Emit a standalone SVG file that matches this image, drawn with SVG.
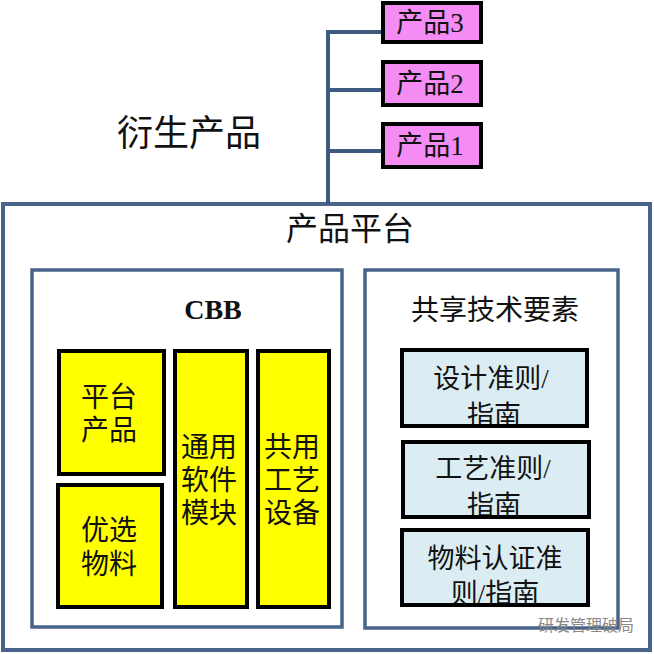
<svg xmlns="http://www.w3.org/2000/svg" width="654" height="654" viewBox="0 0 654 654">
<style>
text{font-family:"Liberation Serif","Noto Sans CJK SC",serif;fill:#111;}
.frame{fill:#fff;stroke:#48648a;stroke-width:4;}
.sub{fill:#fff;stroke:#48648a;stroke-width:3.5;}
.prod{fill:#f48cf4;stroke:#000;stroke-width:4;}
.yel{fill:#ffff00;stroke:#000;stroke-width:4;}
.blu{fill:#dbedf3;stroke:#000;stroke-width:4;}
.conn{stroke:#3d5a80;stroke-width:4;fill:none;}
.t24{font-size:27px;}
.t28{font-size:28px;}
.t27{font-size:27px;}
.mid{text-anchor:middle;}
</style>
<defs>
<clipPath id="c1"><rect x="402" y="350" width="185" height="76"/></clipPath>
<clipPath id="c2"><rect x="403" y="442" width="186" height="75"/></clipPath>
<clipPath id="c3"><rect x="402" y="530" width="186" height="75"/></clipPath>
</defs>
<rect width="654" height="654" fill="#fff"/>
<g id="platform">
<rect class="frame" x="3" y="204" width="647" height="446"/>
<text x="350" y="240" class="mid" style="font-size:32px">产品平台</text>
</g>
<g id="connectors">
<path class="conn" d="M328,204 V32 H383 M328,90 H383 M328,151 H383"/>
</g>
<g id="derived-label">
<text x="189" y="146" class="mid" style="font-size:36px">衍生产品</text>
</g>
<g id="product3">
<rect class="prod" x="383" y="3" width="98" height="39"/>
<text x="430" y="32" class="mid t24">产品3</text>
</g>
<g id="product2">
<rect class="prod" x="383" y="62" width="98" height="43"/>
<text x="430" y="93" class="mid t24">产品2</text>
</g>
<g id="product1">
<rect class="prod" x="383" y="124" width="98" height="43"/>
<text x="430" y="155" class="mid t24">产品1</text>
</g>
<g id="cbb">
<rect class="sub" x="32" y="270" width="310" height="357"/>
<text x="213" y="319" class="mid" style="font-size:28px;font-weight:bold">CBB</text>
</g>
<g id="shared">
<rect class="sub" x="365" y="270" width="253" height="358"/>
<text x="495" y="320" class="mid" style="font-size:28px">共享技术要素</text>
</g>
<g id="platform-product">
<rect class="yel" x="59" y="351" width="105" height="123"/>
<text x="109" y="407" class="mid t28">平台</text>
<text x="109" y="440" class="mid t28">产品</text>
</g>
<g id="preferred-material">
<rect class="yel" x="58" y="485" width="104" height="122"/>
<text x="109" y="540" class="mid t28">优选</text>
<text x="109" y="574" class="mid t28">物料</text>
</g>
<g id="software-module">
<rect class="yel" x="175" y="351" width="72" height="256"/>
<text x="209" y="457" class="mid t28">通用</text>
<text x="209" y="490" class="mid t28">软件</text>
<text x="209" y="523" class="mid t28">模块</text>
</g>
<g id="process-equipment">
<rect class="yel" x="258" y="351" width="71" height="256"/>
<text x="292" y="457" class="mid t28">共用</text>
<text x="292" y="490" class="mid t28">工艺</text>
<text x="292" y="523" class="mid t28">设备</text>
</g>
<g id="design-guide">
<rect class="blu" x="402" y="350" width="185" height="76"/>
<g clip-path="url(#c1)">
<text x="491" y="388" class="mid t27">设计准则/</text>
<text x="494" y="425" class="mid t27">指南</text>
</g>
<rect x="402" y="350" width="185" height="76" fill="none" stroke="#000" stroke-width="4"/>
</g>
<g id="process-guide">
<rect class="blu" x="403" y="442" width="186" height="75"/>
<g clip-path="url(#c2)">
<text x="493" y="478" class="mid t27">工艺准则/</text>
<text x="494" y="515" class="mid t27">指南</text>
</g>
<rect x="403" y="442" width="186" height="75" fill="none" stroke="#000" stroke-width="4"/>
</g>
<g id="material-guide">
<rect class="blu" x="402" y="530" width="186" height="75"/>
<g clip-path="url(#c3)">
<text x="495" y="568" class="mid t27">物料认证准</text>
<text x="495" y="603" class="mid t27">则/指南</text>
</g>
<rect x="402" y="530" width="186" height="75" fill="none" stroke="#000" stroke-width="4"/>
</g>
<g id="watermark">
<text x="586" y="631" class="mid" style="font-family:'Noto Sans CJK SC',sans-serif;font-size:16px;fill:#888">研发管理破局</text>
</g>
</svg>
